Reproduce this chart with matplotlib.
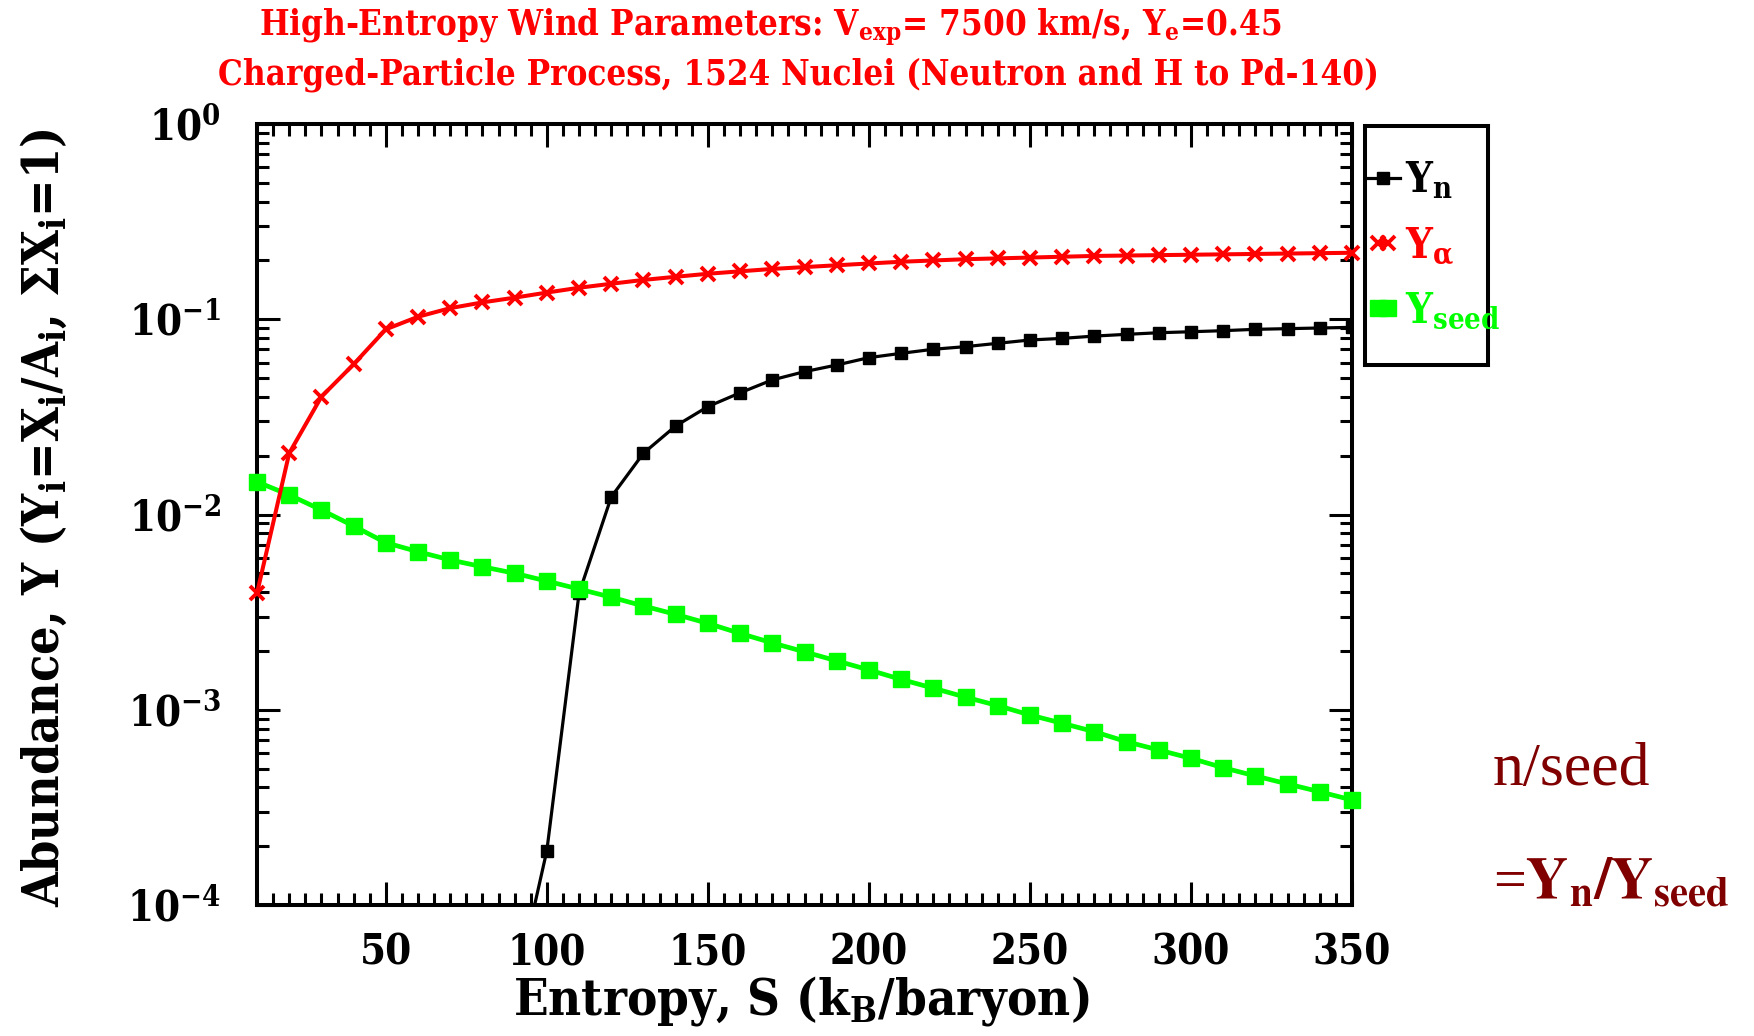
"""
plot.py - abundances of neutrons, alphas and seed nuclei vs. entropy
(high-entropy wind, charged-particle process), drawn in an IDL-like style.
"""
import matplotlib
matplotlib.use('Agg')
import matplotlib.pyplot as plt
from matplotlib.ticker import LogLocator, MultipleLocator, NullFormatter
from matplotlib.legend_handler import HandlerLine2D

# Entropy grid (k_B / baryon)
entropy = [10, 20, 30, 40, 50, 60, 70, 80, 90, 100,
           110, 120, 130, 140, 150, 160, 170, 180, 190, 200,
           210, 220, 230, 240, 250, 260, 270, 280, 290, 300,
           310, 320, 330, 340, 350]

# Y_alpha on the full grid
y_alpha = [0.00395, 0.0206, 0.0401, 0.0588, 0.0888, 0.103, 0.114, 0.122, 0.129, 0.137,
           0.145, 0.152, 0.159, 0.165, 0.171, 0.176, 0.181, 0.185, 0.189, 0.193,
           0.197, 0.200, 0.203, 0.205, 0.207, 0.209, 0.211, 0.212, 0.213, 0.214,
           0.215, 0.216, 0.217, 0.218, 0.219]

# Y_seed on the full grid
y_seed = [0.0147, 0.0126, 0.01055, 0.00873, 0.00717, 0.00645, 0.00585, 0.0054, 0.0050, 0.00456,
          0.00415, 0.00377, 0.0034, 0.00308, 0.00277, 0.00246, 0.0022, 0.00198, 0.00178, 0.0016,
          0.00143, 0.00129, 0.00116, 0.00105, 0.00094, 0.000853, 0.000772, 0.000686, 0.000622, 0.000564,
          0.000505, 0.000458, 0.000417, 0.00038, 0.000345]

# Y_n only rises into view above S ~ 95
entropy_n = [90, 100, 110, 120, 130, 140, 150, 160, 170, 180,
             190, 200, 210, 220, 230, 240, 250, 260, 270, 280,
             290, 300, 310, 320, 330, 340, 350]
y_n = [3.5e-5, 1.9e-4, 0.00395, 0.0123, 0.0206, 0.0284, 0.0357, 0.042, 0.0489, 0.0539,
       0.0583, 0.0636, 0.0669, 0.0702, 0.0724, 0.0753, 0.0783, 0.0798, 0.082, 0.0837,
       0.0853, 0.0863, 0.0874, 0.0888, 0.0895, 0.0902, 0.0909]

x_major = [50, 100, 150, 200, 250, 300, 350]

RED = '#FF0000'
GREEN = '#00FF00'
DARKRED = '#800000'

plt.rcParams['font.family'] = ['DejaVu Serif']
plt.rcParams['font.weight'] = 'bold'
plt.rcParams['font.stretch'] = 'condensed'
plt.rcParams['mathtext.fontset'] = 'custom'
plt.rcParams['mathtext.rm'] = 'DejaVu Serif:bold'
plt.rcParams['mathtext.it'] = 'DejaVu Serif:bold'
plt.rcParams['mathtext.bf'] = 'DejaVu Serif:bold'
plt.rcParams['axes.linewidth'] = 2.9

W, H = 1754, 1036
fig = plt.figure(figsize=(W / 100, H / 100), dpi=100)
fig.patch.set_facecolor('white')

# axes box in pixel coords: x 257..1352, y 124..905
ax = fig.add_axes([257 / W, 1 - 905 / H, (1352 - 257) / W, (905 - 124) / H])

ln_n, = ax.plot(entropy_n, y_n, color='black', lw=2.3, marker='s', ms=9,
                mfc='black', mec='black', zorder=3)
ln_seed, = ax.plot(entropy, y_seed, color=GREEN, lw=3.4, marker='s', ms=11,
                   mfc=GREEN, mec=GREEN, zorder=4, clip_on=False)
ln_alpha, = ax.plot(entropy, y_alpha, color=RED, lw=2.9, marker='x', ms=9.5,
                    mew=2.8, zorder=5, clip_on=False)

ax.set_yscale('log')
ax.set_xlim(10, 350)
ax.set_ylim(1e-4, 1)

ax.set_xticks(x_major)
ax.xaxis.set_minor_locator(MultipleLocator(5))
ax.yaxis.set_major_locator(LogLocator(base=10, numticks=10))
ax.yaxis.set_minor_locator(LogLocator(base=10, subs=range(2, 10), numticks=10))
ax.yaxis.set_minor_formatter(NullFormatter())

ax.tick_params(which='both', direction='in', top=True, right=True,
               width=2.2, labelsize=30)
ax.tick_params(which='major', length=16.5)
ax.tick_params(which='minor', length=8.6)
ax.tick_params(axis='x', pad=19)
ax.tick_params(axis='y', pad=26)

# titles, red, two lines
fig.text(770 / W, 1 - 35 / H,
         r'High-Entropy Wind Parameters: V$_{\mathdefault{exp}}$= 7500 km/s, Y$_{\mathdefault{e}}$=0.45',
         color=RED, fontsize=25, ha='center', va='baseline')
fig.text(798 / W, 1 - 85 / H,
         'Charged-Particle Process, 1524 Nuclei (Neutron and H to Pd-140)',
         color=RED, fontsize=25, ha='center', va='baseline')

# axis labels
fig.text(801 / W, 1 - 1015 / H, r'Entropy, S (k$_{\mathdefault{B}}$/baryon)',
         fontsize=36.5, ha='center', va='baseline')
fig.text(45 / W, 1 - 518 / H,
         r'Abundance, Y (Y$_{\mathdefault{i}}$=X$_{\mathdefault{i}}$/A$_{\mathdefault{i}}$, '
         r'$\mathdefault{\Sigma}$X$_{\mathdefault{i}}$=1)',
         fontsize=36, rotation=90, ha='center', va='center')

# legend in its own framed box to the right of the plot
lax = fig.add_axes([1365 / W, 1 - 365 / H, (1488 - 1365) / W, (365 - 126) / H])
lax.set_xticks([])
lax.set_yticks([])
for sp in lax.spines.values():
    sp.set_linewidth(2.9)
lax.patch.set_alpha(0)
lax.legend([ln_n, ln_alpha, ln_seed],
           [r'Y$_{\mathdefault{n}}$', r'Y$_{\mathdefault{\alpha}}$', r'Y$_{\mathdefault{seed}}$'],
           handler_map={ln_n: HandlerLine2D(numpoints=1)},
           numpoints=2, loc='upper left', bbox_to_anchor=(0.0, 0.86),
           frameon=False, fontsize=30, handlelength=0.85, handletextpad=0.1,
           labelspacing=0.55, borderpad=0, borderaxespad=0,
           labelcolor='linecolor')

# annotation in the lower right corner
fig.text(1493 / W, 1 - 785 / H, 'n/seed', family='Liberation Serif',
         fontweight='normal', fontstretch='normal', fontsize=44.5,
         color=DARKRED, va='baseline')
fig.text(1493 / W, 1 - 897 / H,
         r'=$\mathbf{Y}_{\mathrm{n}}/\mathbf{Y}_{\mathrm{seed}}$',
         family='Liberation Serif', fontweight='normal', fontstretch='normal',
         math_fontfamily='stix', fontsize=42, color=DARKRED, va='baseline')

fig.savefig('out.png', dpi=100, facecolor='white')
